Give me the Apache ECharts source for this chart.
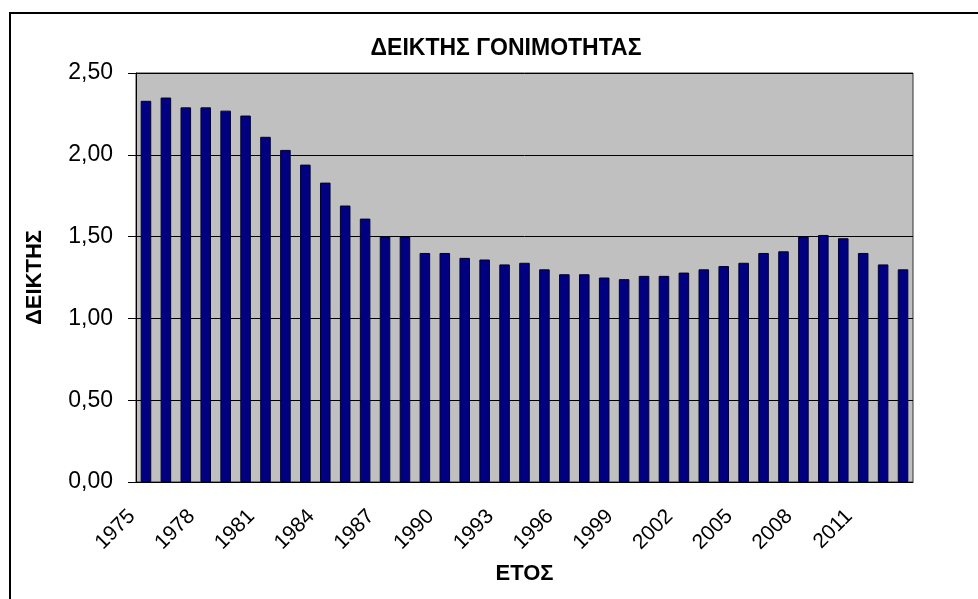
<!DOCTYPE html>
<html>
<head>
<meta charset="utf-8">
<script src="https://cdn.jsdelivr.net/npm/echarts@6/dist/echarts.min.js"></script>
<style>
  html, body { margin: 0; padding: 0; background: #fff; }
  #chart { width: 978px; height: 599px; }
</style>
</head>
<body>
<div id="chart"></div>
<script>
// years shown on the x axis
const years = [
  '1975', '1976', '1977', '1978', '1979', '1980', '1981', '1982', '1983', '1984',
  '1985', '1986', '1987', '1988', '1989', '1990', '1991', '1992', '1993', '1994',
  '1995', '1996', '1997', '1998', '1999', '2000', '2001', '2002', '2003', '2004',
  '2005', '2006', '2007', '2008', '2009', '2010', '2011', '2012', '2013'
]

// fertility index
const fertility = [
  2.33, 2.35, 2.29, 2.29, 2.27, 2.24, 2.11, 2.03, 1.94, 1.83,
  1.69, 1.61, 1.50, 1.50, 1.40, 1.40, 1.37, 1.36, 1.33, 1.34,
  1.30, 1.27, 1.27, 1.25, 1.24, 1.26, 1.26, 1.28, 1.30, 1.32,
  1.34, 1.40, 1.41, 1.50, 1.51, 1.49, 1.40, 1.33, 1.30
]

const chartTitle = 'ΔΕΙΚΤΗΣ ΓΟΝΙΜΟΤΗΤΑΣ'
const yName = 'ΔΕΙΚΤΗΣ'
const xName = 'ΕΤΟΣ'

const font = '"Liberation Sans", Arial, sans-serif'
const chart = echarts.init(document.getElementById('chart'))

const option = {
  animation: false,
  textStyle: { fontFamily: font },
  title: {
    text: chartTitle,
    left: 501,
    top: 32,
    textAlign: 'center',
    textStyle: { fontSize: 23, fontWeight: 'bold', color: '#000', fontFamily: font }
  },
  // outer frame of the chart area
  graphic: [{
    type: 'rect',
    shape: { x: 10, y: 13, width: 1000, height: 620 },
    style: { fill: 'none', stroke: '#000', lineWidth: 2 },
    silent: true
  }],
  grid: {
    left: 136,
    right: 65,
    top: 73,
    bottom: 117,
    show: true,
    backgroundColor: '#c0c0c0',
    borderColor: '#333',
    borderWidth: 1
  },
  xAxis: {
    type: 'category',
    data: years,
    name: xName,
    nameLocation: 'middle',
    nameGap: 81,
    nameTextStyle: { fontSize: 22, fontWeight: 'bold', color: '#000' },
    axisLine: { lineStyle: { color: '#000', width: 1 } },
    axisTick: { interval: 0, length: 6, lineStyle: { color: '#000' } },
    axisLabel: {
      interval: 2,
      rotate: 45,
      fontSize: 21,
      color: '#000',
      margin: 17,
      padding: [0, 20, 0, 0]
    },
    splitLine: { show: false }
  },
  yAxis: {
    type: 'value',
    min: 0,
    max: 2.5,
    interval: 0.5,
    name: yName,
    nameLocation: 'middle',
    nameGap: 90,
    nameRotate: 90,
    nameTextStyle: { fontSize: 22, fontWeight: 'bold', color: '#000' },
    axisLine: { show: true, lineStyle: { color: '#000', width: 1 } },
    axisTick: { show: true, length: 8, lineStyle: { color: '#000' } },
    axisLabel: {
      fontSize: 23,
      color: '#000',
      margin: 23,
      formatter: v => v.toFixed(2).replace('.', ',')
    },
    splitLine: { lineStyle: { color: '#000', width: 1 } }
  },
  series: [{
    type: 'bar',
    data: fertility,
    barWidth: '53%',
    itemStyle: {
      color: '#000080',
      borderColor: '#000033',
      borderWidth: 1
    }
  }]
}

chart.setOption(option)
</script>
</body>
</html>
